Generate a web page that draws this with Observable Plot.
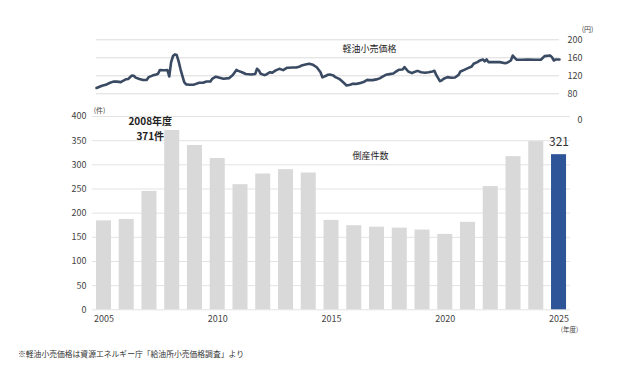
<!DOCTYPE html>
<html>
<head>
<meta charset="utf-8">
<script src="https://cdn.jsdelivr.net/npm/d3@7"></script>
<script src="https://cdn.jsdelivr.net/npm/@observablehq/plot@0.6"></script>
<style>
  body { margin: 0; background: #fff; }
  #wrap { position: relative; width: 620px; height: 373px; background: #fff; font-family: "Noto Sans CJK JP", "Noto Sans", sans-serif; }
  #top, #bottom { position: absolute; left: 0; }
  #top { top: 0; }
  #bottom { top: 100px; }
  #caption { position: absolute; left: 18px; top: 348px; font-size: 7.8px; color: #333; white-space: nowrap; }
</style>
</head>
<body>
<div id="wrap">
  <div id="top"></div>
  <div id="bottom"></div>
  <div id="caption"></div>
</div>
<script>
// ---- bar data: bankruptcies per fiscal year ----
const years = [2005,2006,2007,2008,2009,2010,2011,2012,2013,2014,2015,2016,2017,2018,2019,2020,2021,2022,2023,2024,2025];
const counts = [184,187,245,371,340,313,259,281,290,283,185,174,171,169,165,156,181,255,317,348,321];
const countTicks = [0,50,100,150,200,250,300,350,400];
const yearTicks = [2005,2010,2015,2020,2025];
const peakYear = 2008;
const highlightYear = 2025;

// ---- line data: diesel retail price (yen/L) ----
const priceDates = ["2005-01","2005-04","2005-06","2005-08","2005-10","2005-12","2006-02","2006-03","2006-05","2006-06","2006-08","2006-09","2006-10","2006-12",
"2007-02","2007-04","2007-05","2007-07","2007-09","2007-10","2007-11","2008-01","2008-02","2008-03","2008-04","2008-05","2008-06","2008-07","2008-08","2008-09","2008-10","2008-11","2008-12",
"2009-01","2009-03","2009-05","2009-06","2009-08","2009-10","2009-12","2010-02","2010-03","2010-05","2010-07","2010-09","2010-12",
"2011-02","2011-04","2011-05","2011-07","2011-09","2011-12","2012-02","2012-03","2012-04","2012-05","2012-07","2012-08","2012-10","2012-11",
"2013-01","2013-03","2013-05","2013-07","2013-08","2013-10","2013-12","2014-02","2014-03","2014-05","2014-07","2014-09","2014-11",
"2015-01","2015-02","2015-04","2015-05","2015-06","2015-08","2015-09","2015-11","2016-01","2016-03","2016-05","2016-06","2016-08","2016-10","2016-12",
"2017-02","2017-03","2017-05","2017-07","2017-09","2017-10","2017-12","2018-02","2018-04","2018-06","2018-07","2018-09","2018-10","2018-12",
"2019-02","2019-03","2019-05","2019-07","2019-09","2019-11","2020-01","2020-02","2020-03","2020-05","2020-06","2020-07","2020-09","2020-11",
"2021-01","2021-03","2021-04","2021-06","2021-08","2021-10","2021-11","2022-01","2022-02","2022-04","2022-05","2022-06","2022-07","2022-10",
"2023-01","2023-04","2023-05","2023-07","2023-08","2023-09","2023-10","2024-01","2024-04","2024-08","2024-11","2025-01","2025-04","2025-05","2025-06","2025-07","2025-09"];
const prices = [93,98,100,104,107,107,106,108,112.5,113,120.5,120,116,113,
110.5,111,117,120.5,123,124.5,133,132.5,132.5,133,118.5,150,164,167.5,166,152,135,120,106,
101,100,100,101.5,104.4,104.4,107.4,107.4,113,118,115.6,113.3,114.8,
122,133,131,128,124,123,124,135.5,132,124.5,121.5,123,128,126.7,
132,135.5,132.6,137.8,137.8,138.5,138.5,140.7,143,145,146.7,144.4,139,
128,116.5,120,122.5,123,120.7,117,113.3,106,98.5,100,102,102,103.7,106,
111,110.4,110.4,112,114.8,117.8,122.2,123.7,125,131,133.3,134,139.3,129.6,
126,128,131,128,126.7,128,129.6,131,122,108,110,113.3,117,115.6,
116.3,122,129.6,133.3,137,140.7,146.7,150.4,153.3,156.3,152,156.3,150.4,150.4,
150.4,148,149,154,165,160,156,155.6,156.3,155.6,155.6,163.7,165,161.5,154,156.3,156.3];
const priceTicks = [80,120,160,200];

const font = "Noto Sans CJK JP, Noto Sans, sans-serif";
const parseMonth = d3.utcParse("%Y-%m");
const priceData = priceDates.map((d, i) => ({date: parseMonth(d), price: prices[i]}));
const barData = years.map((y, i) => ({year: y, count: counts[i]}));

// ---- top: price line ----
const topPlot = Plot.plot({
  width: 620, height: 100,
  marginTop: 39.3, marginBottom: 6.7, marginLeft: 96, marginRight: 61,
  style: {fontFamily: font, background: "transparent"},
  x: {type: "utc", domain: [parseMonth("2005-01"), parseMonth("2025-09")], axis: null},
  y: {domain: [80, 200]},
  marks: [
    Plot.gridY(priceTicks, {stroke: "#dcdcdc", strokeOpacity: 1}),
    Plot.line(priceData, {x: "date", y: "price", stroke: "#3a4a63", strokeWidth: 2.6, strokeLinejoin: "round", strokeLinecap: "round"}),
    Plot.axisY({anchor: "right", ticks: priceTicks, tickSize: 0, tickPadding: 8, fontSize: 9, color: "#444", label: null}),
    Plot.text(["(円)"], {frameAnchor: "top-right", dx: 28, dy: -13, fontSize: 7, fill: "#444", textAnchor: "middle"}),
    Plot.text(["軽油小売価格"], {frameAnchor: "top", dx: 41.5, dy: 6, fontSize: 9, fill: "#222", textAnchor: "middle"})
  ]
});
document.getElementById("top").append(topPlot);

// ---- bottom: bankruptcies bars ----
const peak = barData.find(d => d.year === peakYear);
const last = barData.find(d => d.year === highlightYear);
const bottomPlot = Plot.plot({
  width: 620, height: 240,
  marginTop: 16, marginBottom: 30.7, marginLeft: 92.1, marginRight: 50.1,
  style: {fontFamily: font, background: "transparent"},
  x: {type: "band", domain: years, paddingInner: 0.34, paddingOuter: 0.17, round: false},
  y: {domain: [0, 400]},
  marks: [
    Plot.gridY(countTicks, {stroke: "#e3e3e3", strokeOpacity: 1}),
    Plot.barY(barData, {x: "year", y: "count", fill: d => d.year === highlightYear ? "#2e5597" : "#d9d9d9"}),
    Plot.axisX({ticks: yearTicks, tickSize: 0, tickPadding: 6, fontSize: 9, color: "#444", tickFormat: d => `${d}`, label: null}),
    Plot.axisY({ticks: countTicks, tickSize: 0, tickPadding: 6, fontSize: 9, color: "#444", label: null}),
    Plot.text([peak], {x: "year", y: "count", text: d => `${d.year}年度\n${d.count}件`, dx: -22, dy: -2.5, fontSize: 10, fontWeight: 600, fill: "#222", lineHeight: 1.45, textAnchor: "middle"}),
    Plot.text([last], {x: "year", y: "count", text: d => `${d.count}`, dy: -12.5, fontSize: 12, fill: "#333", textAnchor: "middle"}),
    Plot.text(["倒産件数"], {frameAnchor: "top", dx: 39, dy: 35.7, fontSize: 9, fill: "#222", textAnchor: "middle"}),
    Plot.text(["0"], {frameAnchor: "top-right", dx: 7, fontSize: 9, fill: "#444", textAnchor: "start"}),
    Plot.text(["(件)"], {frameAnchor: "top-left", dx: 7, dy: -8, fontSize: 7, fill: "#444", textAnchor: "middle"}),
    Plot.text(["(年度)"], {frameAnchor: "bottom-right", dx: -1, dy: 22.5, fontSize: 6.5, fill: "#444", textAnchor: "middle"})
  ]
});
document.getElementById("bottom").append(bottomPlot);

document.getElementById("caption").textContent = "※軽油小売価格は資源エネルギー庁「給油所小売価格調査」より";
</script>
</body>
</html>
